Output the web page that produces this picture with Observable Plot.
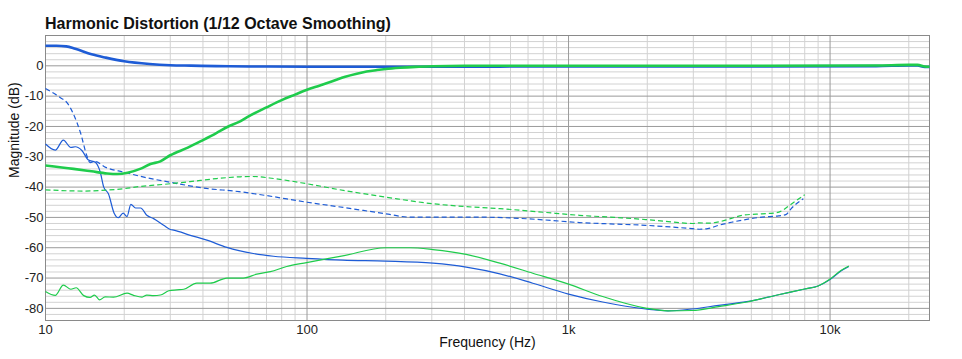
<!DOCTYPE html>
<html><head><meta charset="utf-8">
<script src="https://cdn.jsdelivr.net/npm/d3@7"></script>
<script src="https://cdn.jsdelivr.net/npm/@observablehq/plot@0.6"></script>
<style>
html,body{margin:0;padding:0;background:#fff;}
#wrap{position:relative;width:962px;height:359px;font-family:"Liberation Sans",Arial,sans-serif;}
#title{position:absolute;left:45px;top:15px;font-weight:bold;font-size:16px;line-height:18px;color:#111;white-space:nowrap;}
#wrap svg{position:absolute;left:0;top:0;}
</style></head><body>
<div id="wrap"><div id="title">Harmonic Distortion (1/12 Octave Smoothing)</div></div>
<script>
// ---- tick labels ----
const xTickValues = [10, 100, 1000, 10000];
const xTickLabels = ["10", "100", "1k", "10k"];
const yTickValues = [0, -10, -20, -30, -40, -50, -60, -70, -80];
const yTickLabels = ["0", "-10", "-20", "-30", "-40", "-50", "-60", "-70", "-80"];
const xMinorTicks = [20,30,40,50,60,70,80,90,200,300,400,500,600,700,800,900,2000,3000,4000,5000,6000,7000,8000,9000,20000];
const yMinorTicks = [8,6,4,2,-2,-4,-6,-8,-12,-14,-16,-18,-22,-24,-26,-28,-32,-34,-36,-38,-42,-44,-46,-48,-52,-54,-56,-58,-62,-64,-66,-68,-72,-74,-76,-78,-82];
const xAxisTitle = "Frequency (Hz)";
const yAxisTitle = "Magnitude (dB)";

// ---- series: Fundamental (blue, thick) ----
const blueFundFreq = [10, 11, 12, 13, 15, 17, 20, 25, 30, 36, 45, 60, 100, 300, 1000, 5000, 15000, 20000, 21600, 23000, 24000];
const blueFundDb   = [6.6, 6.6, 6.4, 5.6, 3.8, 2.7, 1.5, 0.6, 0.2, 0.05, -0.1, -0.2, -0.3, -0.3, -0.2, -0.2, -0.1, 0.1, 0.1, -0.4, -0.4];

// ---- series: Fundamental (green, thick) ----
const greenFundFreq = [10, 12.8, 15, 17.2, 18.8, 20.6, 23, 25.2, 27.5, 30, 35, 40, 45, 50, 55, 60, 70, 80, 90, 100, 112, 125, 140, 155, 169, 185, 200, 227, 260, 302, 400, 600, 1000, 5000, 15000, 20000, 21600, 23000, 24000];
const greenFundDb   = [-32.9, -34, -34.8, -35.5, -35.7, -35.3, -34, -32.4, -31.5, -29.5, -27, -24.5, -22.2, -20, -18.5, -16.6, -13.7, -11.3, -9.5, -7.9, -6.5, -5.1, -3.6, -2.6, -1.9, -1.4, -1.05, -0.65, -0.35, -0.15, 0, 0, 0, 0, 0.1, 0.3, 0.3, -0.2, -0.3];

// ---- series: 2nd harmonic (blue, dashed) ----
const blueH2Freq = [10, 11.4, 12.1, 12.8, 13.6, 14.4, 14.8, 15.5, 17, 20, 24, 30, 40, 55, 70, 100, 140, 200, 247, 300, 455, 610, 800, 1100, 1500, 1970, 2500, 2970, 3160, 3400, 3750, 4200, 4620, 5500, 6350, 6800, 7100, 7900];
const blueH2Db   = [-7.5, -10.5, -12.2, -16, -22, -29.7, -31.9, -31.6, -33.5, -35.1, -36.8, -38.4, -40.3, -41.5, -42.8, -45, -46.8, -48.8, -49.9, -49.9, -49.9, -50.2, -50.8, -51.7, -52.2, -52.6, -53.2, -53.7, -53.9, -53.7, -52.6, -51.6, -50.9, -49.9, -49.5, -49.0, -47.1, -43.8];

// ---- series: 2nd harmonic (green, dashed) ----
const greenH2Freq = [10, 12, 14, 16.2, 20, 23, 30, 35.7, 45, 55.5, 62, 75, 100, 140, 200, 303, 400, 546, 800, 1100, 1500, 1970, 2500, 2970, 3160, 3400, 3750, 4200, 4620, 5500, 6200, 6600, 7000, 8000];
const greenH2Db   = [-40.9, -41.2, -41.3, -41.1, -40.5, -39.8, -38.9, -38.2, -37.2, -36.6, -36.5, -37.2, -38.9, -41.2, -43.3, -45.5, -46.4, -47.1, -48.3, -49.3, -50.0, -50.7, -51.5, -52.0, -51.8, -51.9, -51.5, -50.3, -49.3, -48.8, -48.5, -47.6, -46.0, -42.5];

// ---- series: 3rd harmonic (blue, thin) ----
const blueH3Freq = [10, 10.9, 11.7, 12.5, 13.0, 13.8, 14.6, 15.5, 16.2, 16.7, 17.4, 18.3, 19.0, 19.8, 20.5, 21.2, 22.1, 23.1, 24.4, 25.9, 28.3, 30, 30.9, 35.8, 41.4, 49.4, 62.3, 74.4, 99.6, 137, 200, 303, 406, 546, 730, 1000, 1350, 1970, 2400, 2970, 3750, 4800, 6350, 8000, 9000, 10000, 11000, 11800];
const blueH3Db   = [-25.8, -27.8, -24.5, -26.9, -26.7, -28, -31.1, -31.8, -35.1, -40, -42.2, -48.6, -50.1, -48.6, -49.7, -45.7, -46.9, -46.9, -49.3, -50.4, -52.6, -54, -54.2, -55.9, -57.5, -59.9, -61.9, -62.8, -63.5, -64.1, -64.4, -65.1, -66.4, -68.6, -71.7, -75.3, -77.9, -80.2, -80.8, -80.2, -79, -77.8, -75.5, -73.6, -72.6, -70.5, -67.7, -66.2];

// ---- series: 3rd harmonic (green, thin) ----
const greenH3Freq = [10, 10.9, 11.7, 12.5, 13.1, 14, 14.8, 15.4, 16.1, 16.9, 18.2, 20.5, 21.7, 23.4, 24.4, 25.9, 27.5, 29.6, 31.8, 33.8, 37.9, 42.6, 49.4, 57.1, 64.3, 72.4, 83.6, 99.6, 137, 200, 247, 303, 406, 546, 730, 1000, 1350, 1970, 2400, 2970, 3750, 4800, 6350, 8000, 9000, 10000, 11000, 11800];
const greenH3Db   = [-74.4, -75.7, -72.3, -73.7, -73.2, -75.8, -76.4, -75.6, -77.2, -76.2, -76.3, -75, -75.7, -76.3, -75.6, -75.8, -75.6, -74.2, -73.9, -73.7, -71.7, -71.7, -70, -70, -68.7, -67.9, -66.2, -64.9, -62.7, -60, -60, -60.6, -62.2, -65.1, -68.4, -72, -76.1, -79.9, -80.8, -80.7, -79.4, -77.9, -75.5, -73.6, -72.6, -70.3, -67.5, -66.0];

const BLUE = "#1e5cd6";
const GREEN = "#1fcc4c";

const rows = (f, v) => f.map((d, i) => ({f: d, db: v[i]}));

const series = [
  {data: rows(blueH3Freq, blueH3Db), stroke: BLUE, w: 1.2, dash: null},
  {data: rows(greenH3Freq, greenH3Db), stroke: GREEN, w: 1.2, dash: null},
  {data: rows(blueH2Freq, blueH2Db), stroke: BLUE, w: 1.2, dash: "5,3"},
  {data: rows(greenH2Freq, greenH2Db), stroke: GREEN, w: 1.2, dash: "5,3"},
  {data: rows(blueFundFreq, blueFundDb), stroke: BLUE, w: 2.6, dash: null},
  {data: rows(greenFundFreq, greenFundDb), stroke: GREEN, w: 2.6, dash: null}
];

const chart = Plot.plot({
  width: 962,
  height: 359,
  marginTop: 35,
  marginLeft: 45,
  marginRight: 33,
  marginBottom: 39,
  style: {fontFamily: "Liberation Sans, Arial, sans-serif", fontSize: "13px", color: "#222", background: "transparent"},
  x: {type: "log", domain: [10, 24000]},
  y: {domain: [-84, 10]},
  marks: [
    Plot.ruleY(yMinorTicks, {stroke: "#d2d2d2", strokeWidth: 1}),
    Plot.ruleX(xMinorTicks, {stroke: "#d2d2d2", strokeWidth: 1}),
    Plot.ruleY(yTickValues, {stroke: "#9a9a9a", strokeWidth: 1}),
    Plot.ruleX(xTickValues, {stroke: "#9a9a9a", strokeWidth: 1}),
    Plot.frame({stroke: "#8a8a8a"}),
    ...series.map(s => Plot.line(s.data, {
      x: "f", y: "db", stroke: s.stroke, strokeWidth: s.w,
      strokeDasharray: s.dash ?? undefined, curve: "monotone-x",
      strokeLinejoin: "round", strokeLinecap: "butt"
    })),
    Plot.axisX({ticks: xTickValues, tickFormat: d => xTickLabels[xTickValues.indexOf(d)],
      tickSize: 0, tickPadding: 4, label: null, fontSize: 13}),
    Plot.axisY({ticks: yTickValues, tickFormat: d => yTickLabels[yTickValues.indexOf(d)],
      tickSize: 0, tickPadding: 2, label: null, fontSize: 13}),
    Plot.text([xAxisTitle], {frameAnchor: "bottom", dy: 22, text: d => d, fontSize: 14, fill: "#111", lineAnchor: "middle"}),
    Plot.text([yAxisTitle], {frameAnchor: "left", dx: -31, text: d => d, fontSize: 14, fill: "#111", rotate: -90, lineAnchor: "middle"})
  ]
});
document.getElementById("wrap").appendChild(chart);
</script>
</body></html>
